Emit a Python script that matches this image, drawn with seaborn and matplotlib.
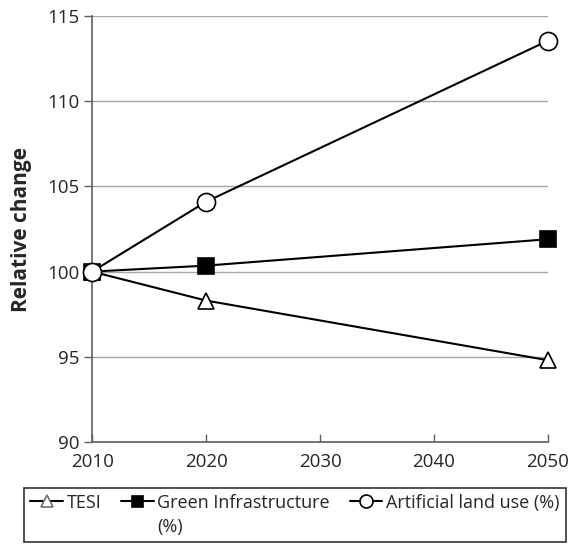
import matplotlib
matplotlib.use("Agg")
import matplotlib.pyplot as plt
import seaborn as sns
import pandas as pd

years = [2010, 2020, 2050]
tesi = [100, 98.3, 94.8]
green_infra = [100, 100.35, 101.9]
artificial = [100, 104.1, 113.55]

series_names = ["TESI", "Green Infrastructure\n(%)", "Artificial land use (%)"]
y_ticks = [90, 95, 100, 105, 110, 115]
x_ticks = [2010, 2020, 2030, 2040, 2050]

sns.set_theme(style="white")
plt.rcParams["font.family"] = ["Open Sans", "DejaVu Sans"]

df = pd.DataFrame({
    "year": years * 3,
    "value": tesi + green_infra + artificial,
    "series": [series_names[0]] * 3 + [series_names[1]] * 3 + [series_names[2]] * 3,
})

fig = plt.figure(figsize=(5.72, 5.44), dpi=100)
ax = fig.add_axes([0.161, 1 - 442 / 544, 0.797, (442 - 16) / 544])

# marker look per series
styles = {
    series_names[0]: dict(marker="^", markersize=12, markerfacecolor="white"),
    series_names[1]: dict(marker="s", markersize=11, markerfacecolor="black"),
    series_names[2]: dict(marker="o", markersize=13, markerfacecolor="white"),
}
for name in series_names:
    sub = df[df["series"] == name]
    sns.lineplot(data=sub, x="year", y="value", ax=ax, color="black", lw=1.5,
                 markeredgecolor="black", markeredgewidth=1.2, label=name,
                 legend=False, zorder=3, clip_on=False, **styles[name])

ax.set_xlim(2010, 2050)
ax.set_ylim(90, 115)
ax.set_xticks(x_ticks)
ax.set_yticks(y_ticks)
ax.set_xlabel("")
ax.set_ylabel("Relative change", fontsize=15, fontweight="bold", labelpad=11)
ax.tick_params(axis="both", labelsize=13.5, width=1, color="#606060", left=True, bottom=True)
ax.tick_params(axis="y", direction="out", length=6, pad=3)
ax.tick_params(axis="x", direction="in", length=6, pad=8)
ax.grid(axis="y", color="#a6a6a6", lw=1)
ax.grid(axis="x", visible=False)
for side in ["top", "right"]:
    ax.spines[side].set_visible(False)
for side in ["left", "bottom"]:
    ax.spines[side].set_color("#606060")
    ax.spines[side].set_linewidth(1.2)

handles, labels = ax.get_legend_handles_labels()
leg = fig.legend(handles, labels, loc="upper left", bbox_to_anchor=(24 / 572, 1 - 488 / 544),
                 ncol=3, frameon=True, fancybox=False, fontsize=13, handlelength=1.8,
                 handletextpad=0.2, columnspacing=1.1, borderpad=0.35, borderaxespad=0,
                 markerscale=0.72)
leg.get_frame().set_edgecolor("black")
leg.get_frame().set_linewidth(1.2)
# first line of each entry on the same row, like the original legend
leg._legend_handle_box.align = "top"
for col in leg._legend_handle_box.get_children():
    for entry in col.get_children():
        entry.align = "top"
for t in leg.get_texts():
    t.set_linespacing(1.4)
leg.legend_handles[0].set_markeredgecolor("#707070")

fig.savefig("out.png", dpi=100)
